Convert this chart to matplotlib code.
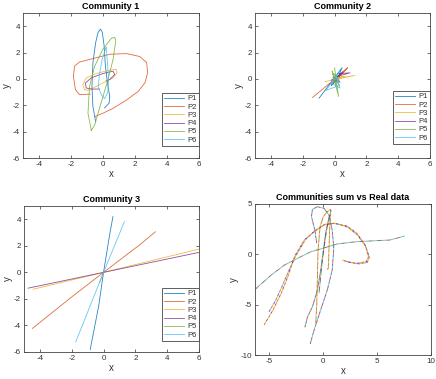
import matplotlib
matplotlib.use('Agg')
import matplotlib.pyplot as plt

plt.rcParams['font.family'] = ['Liberation Sans', 'DejaVu Sans']
plt.rcParams['axes.unicode_minus'] = False

COLORS = ['#0072BD', '#D95319', '#EDB120', '#7E2F8E', '#77AC30', '#4DBEEE', '#A2142F']
labels = ['P1', 'P2', 'P3', 'P4', 'P5', 'P6']

# Community 1 (closed loops)
c1_x = [
    [-0.46, -0.63, -0.69, -0.63, -0.46, -0.31, -0.16, -0.04, 0.07, 0.15, 0.28, 0.42, 0.38, 0.10],
    [-0.80, -1.47, -1.72, -1.85, -1.78, -1.47, -0.63, 0.42, 1.47, 2.30, 2.73, 2.79, 2.62, 2.20, 1.47, 0.63, 0.00, -0.52],
    [-1.15, -1.26, -1.05, -0.42, 0.42, 0.84, 0.88, 0.63, 0.00, -0.63, -0.94, -1.15],
    [-0.21, -0.73, -1.05, -1.10, -0.73, 0.00, 0.63, 0.73, 0.42, 0.20],
    [-0.73, -0.94, -0.84, -0.52, 0.00, 0.52, 0.73, 0.80, 0.63, 0.31, 0.00, -0.31, -0.52, -0.73],
    [0.20, -0.05, -0.20, -0.30, -0.10, 0.10, 0.30, 0.35, 0.28, 0.20],
]
c1_y = [
    [-3.24, -2.10, -0.57, 1.22, 2.75, 3.52, 3.78, 3.52, 2.50, 0.97, -0.31, -1.33, -1.84, -2.20],
    [-1.15, -1.20, -0.82, 0.20, 0.97, 1.28, 1.54, 1.87, 1.92, 1.70, 1.23, 0.46, -0.30, -0.95, -1.60, -2.23, -2.60, -2.87],
    [-0.82, -0.44, 0.08, 0.41, 0.67, 0.72, 0.46, 0.08, -0.31, -0.69, -0.87, -0.82],
    [-0.77, -0.77, -0.69, -0.31, 0.08, 0.41, 0.59, 0.33, -0.05, -0.15],
    [-3.90, -2.60, -0.56, 0.97, 2.26, 3.08, 3.15, 2.90, 1.49, -0.05, -1.33, -2.60, -3.50, -3.90],
    [2.40, 1.50, 0.50, -0.60, -1.20, -1.50, -1.00, 0.00, 1.20, 2.40],
]

# Community 2 (short zigzags around the origin)
c2_x = [
    [-0.97, 0.47, 0.10, 0.55, -0.20, 0.35, -0.05, 0.30],
    [-1.38, 0.74, 0.20, 0.82, -0.30, 0.45, 0.00],
    [-0.60, 1.28, 0.10, 0.60, -0.20, 0.40],
    [-0.10, 0.97, 0.20, 0.50, -0.20, 0.35, 0.05],
    [0.00, 0.25, -0.15, 0.10, -0.05, 0.30, 0.05],
    [-0.50, 0.30, -0.25, 0.35, 0.10, 0.30, -0.60],
]
c2_y = [
    [-1.46, 0.85, -0.20, 0.60, -0.50, 0.30, -0.10, 0.20],
    [-1.41, 0.72, 0.10, 0.85, -0.40, 0.40, -0.10],
    [-0.20, 0.26, 0.05, 0.20, -0.10, 0.10],
    [0.10, 0.46, 0.40, 0.46, -0.10, -0.25, 0.05],
    [0.85, -1.33, 0.60, -0.60, 0.40, -0.10, -0.50],
    [-0.80, 0.50, -0.30, -0.70, 0.20, -0.50, -0.90],
]

# Community 3 (near-straight lines through the origin)
c3_x = [
    [-0.84, -0.30, 0.00, 0.35, 0.59],
    [-4.48, -2.00, 0.00, 2.30, 3.26],
    [-4.42, 0.00, 6.06],
    [-4.74, 0.00, 6.06],
    [-0.25, 0.00],
    [-1.75, 0.00, 1.31],
]
c3_y = [
    [-5.82, -2.50, 0.00, 2.60, 4.20],
    [-4.23, -1.85, 0.00, 2.10, 3.06],
    [-1.27, 0.00, 1.77],
    [-1.19, 0.00, 1.52],
    [-0.76, 0.00],
    [-5.24, 0.00, 3.82],
]

# Communities sum vs real data
c4_x = [
    [-6.25, -4.79, -3.57, -2.35, -1.13, 0.00, 1.31, 3.14, 4.97, 6.19, 7.56],
    [-5.46, -4.63, -3.87, -3.26, -2.65, -1.74, -0.82, 0.09, 1.00, 2.23, 3.14, 3.90, 4.21, 4.00, 3.14, 2.23, 1.77],
    [-5.00, -4.40, -3.80, -3.20, -2.50, -1.60, -0.70, 0.20, 1.10, 2.30, 3.20, 3.95, 4.30, 4.10, 3.30, 2.40, 1.90],
    [-1.19, -0.82, -0.21, 0.40, 0.85, 1.00, 0.85, 0.55, 0.09, -0.52, -0.98, -1.07, -0.76, -0.58],
    [-1.68, -1.43, -0.98, -0.52, -0.21, 0.03, 0.24, 0.55, 0.70],
    [-0.67, -0.58, -0.52, -0.46, -0.27, 0.03, 0.40, 0.70, 0.60, 0.49, 0.35],
    [-0.37, -0.10, 0.20, 0.45, 0.76],
]
c4_y = [
    [-3.44, -2.05, -1.06, -0.40, 0.26, 0.60, 1.03, 1.26, 1.36, 1.42, 1.82],
    [-7.02, -5.53, -3.87, -2.22, -0.23, 1.42, 2.25, 2.91, 3.08, 2.81, 2.09, 0.93, -0.23, -0.73, -0.89, -0.73, -0.56],
    [-5.70, -4.60, -3.20, -1.70, -0.10, 1.50, 2.40, 3.00, 3.10, 2.70, 1.90, 0.80, -0.30, -0.80, -0.95, -0.80, -0.60],
    [-8.90, -7.50, -5.50, -3.54, -1.56, 0.60, 2.42, 3.90, 4.57, 4.73, 4.47, 3.74, 2.42, 1.09],
    [-7.25, -6.19, -5.20, -3.54, -1.56, 0.43, 2.09, 3.58, 4.07],
    [-6.85, -4.87, -2.22, 0.43, 2.75, 3.74, 4.24, 4.47, 2.00, -1.39, -1.50],
    [-3.87, -1.00, 1.50, 3.20, 4.40],
]
c4_palettes = [
    [0, 4, 5, 1],
    [1, 2, 3, 2],
    [3, 2, 1, 5],
    [0, 5, 3, 1],
    [3, 1, 0, 4],
    [1, 2, 1, 4],
    [4, 2, 3, 0],
]

SPINE = '#444444'
TEXT = '#333333'


def style_axes(ax, title, xlim, ylim, xticks, yticks):
    ax.set_xlim(*xlim)
    ax.set_ylim(*ylim)
    ax.set_xticks(xticks)
    ax.set_yticks(yticks)
    ax.tick_params(direction='in', length=2.5, width=0.5, top=True, right=True,
                   labelsize=5.8, colors=TEXT, pad=2)
    for s in ax.spines.values():
        s.set_color(SPINE)
        s.set_linewidth(0.6)
    ax.set_title(title, fontsize=6.5, fontweight='bold', pad=3)
    ax.set_xlabel('x', fontsize=7, color=TEXT, labelpad=1)
    ax.set_ylabel('y', fontsize=7, color=TEXT, labelpad=1)


def plot_community(ax, xs, ys, title, legend_pad):
    for k in range(len(xs)):
        ax.plot(xs[k], ys[k], color=COLORS[k], linewidth=0.6, alpha=0.85, label=labels[k])
    style_axes(ax, title, (-5, 6), (-6, 5), range(-4, 7, 2), range(-6, 5, 2))
    leg = ax.legend(loc='lower right', bbox_to_anchor=(1.0, legend_pad), borderaxespad=0,
                    fontsize=5.5, handlelength=2.6, handletextpad=0.4, labelspacing=0.12,
                    borderpad=0.3, fancybox=False, framealpha=1)
    leg.get_frame().set_edgecolor(SPINE)
    leg.get_frame().set_linewidth(0.6)
    for t in leg.get_texts():
        t.set_color(TEXT)


def main():
    W, H = 436, 379
    fig = plt.figure(figsize=(W / 100, H / 100), dpi=100)

    def add(l, r, t, b):
        return fig.add_axes([l / W, (H - b) / H, (r - l) / W, (b - t) / H])

    ax1 = add(23, 199, 13, 158)
    ax2 = add(255, 430, 13, 158)
    ax3 = add(24, 199, 206, 352)
    ax4 = add(255, 431, 204, 355)

    plot_community(ax1, c1_x, c1_y, 'Community 1', 12 / 145)
    plot_community(ax2, c2_x, c2_y, 'Community 2', 14 / 145)
    plot_community(ax3, c3_x, c3_y, 'Community 3', 11 / 146)

    for k in range(len(c4_x)):
        pal = c4_palettes[k]
        for j, ci in enumerate(pal):
            ax4.plot(c4_x[k], c4_y[k], color=COLORS[ci], linewidth=0.65, alpha=0.9,
                     linestyle=(j * 2.5, (2.5, 7.5)))
    style_axes(ax4, 'Communities sum vs Real data', (-6.3, 10), (-10, 5),
               [-5, 0, 5, 10], [-10, -5, 0, 5])

    fig.savefig('out.png', dpi=100)


if __name__ == '__main__':
    main()
